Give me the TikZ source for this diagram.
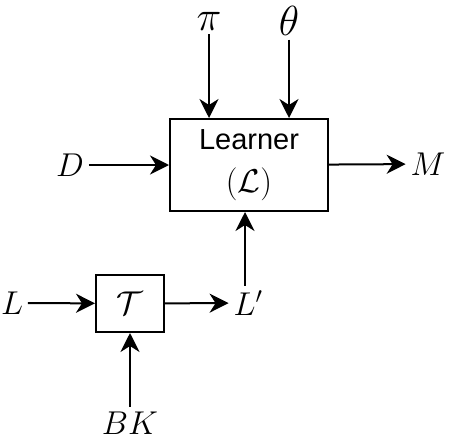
\RequirePackage{fix-cm}
\documentclass[tikz,border=0pt]{standalone}
\usepackage{amsmath,amssymb}
\usepackage{fontspec}
\setsansfont{Liberation Sans}
\usetikzlibrary{arrows.meta,positioning}

\begin{document}
\begin{tikzpicture}[x=1pt, y=-1pt, line width=2pt,
	flow/.style={-{Stealth[length=19pt,width=19pt,inset=6pt]}, line width=2pt},
	blockbox/.style={draw, line width=2pt, inner sep=0pt, align=center},
	sym/.style={inner sep=4pt, font=\fontsize{33}{36}\selectfont},
	bigsym/.style={inner sep=3pt, font=\fontsize{42}{46}\selectfont}]

	\useasboundingbox (0,0) rectangle (449,441);

	% ================= Learner block and its inputs =================
	\node[blockbox, minimum width=158pt, minimum height=92pt,
		font=\sffamily\fontsize{29}{41}\selectfont] (learner) at (249,165)
		{\raisebox{2pt}{Learner}\\\fontsize{33}{41}\selectfont$(\mathcal{L})$};

	\node[bigsym] (pi)    at (209,21) {$\pi$};
	\node[bigsym] (theta) at (289,21) {$\theta$};
	\node[sym] (D)     at (70,165) {$D$};
	\node[sym] (M)     at (428,164) {$M$};

	\draw[flow] (pi) -- (pi |- learner.north);
	\draw[flow] (theta) -- (theta |- learner.north);
	\draw[flow] (D) -- (learner);
	\draw[flow] (learner) -- (M);

	% ================= Transformation block =================
	\node[blockbox, minimum width=68pt, minimum height=57pt,
		font=\fontsize{33}{36}\selectfont] (trans) at (130,303.5) {$\mathcal{T}$};

	\node[sym] (L)  at (12,303)  {$L$};
	\node[sym] (Lp) at (248,303) {$L'$};
	\node[sym] (BK) at (130,423) {$BK$};

	\draw[flow] (L) -- (trans);
	\draw[flow] (trans) -- (Lp);
	\draw[flow] (BK) -- (trans);
	\draw[flow] ([xshift=-3pt]Lp.north) -- ([xshift=-3pt]Lp.north |- learner.south);

\end{tikzpicture}
\end{document}
